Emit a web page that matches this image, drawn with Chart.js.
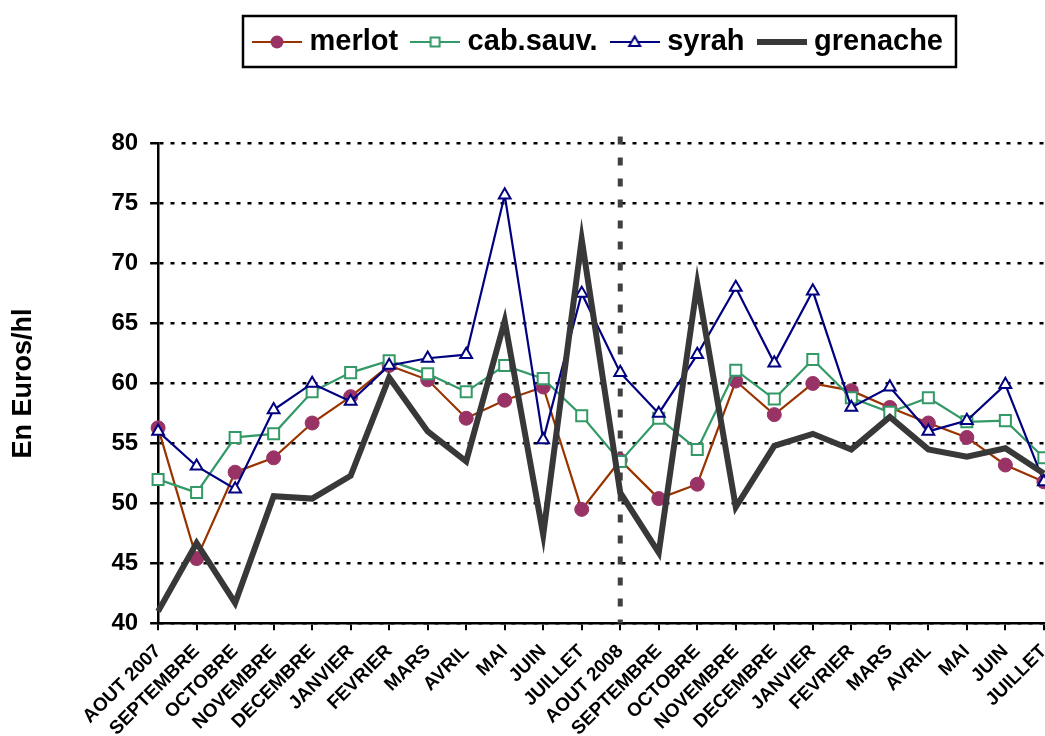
<!DOCTYPE html>
<html><head><meta charset="utf-8">
<script src="https://cdn.jsdelivr.net/npm/chart.js@4/dist/chart.umd.min.js"></script>
<style>
html,body{margin:0;padding:0;background:#fff;overflow:hidden;width:1045px;height:736px;}
#wrap{position:absolute;left:0;top:0;width:1070px;height:757px;}
</style></head><body>
<div id="wrap"><canvas id="c" width="1070" height="757"></canvas></div>
<script>
const categories = ['AOUT 2007','SEPTEMBRE','OCTOBRE','NOVEMBRE','DECEMBRE','JANVIER','FEVRIER','MARS','AVRIL','MAI','JUIN','JUILLET',
                    'AOUT 2008','SEPTEMBRE','OCTOBRE','NOVEMBRE','DECEMBRE','JANVIER','FEVRIER','MARS','AVRIL','MAI','JUIN','JUILLET'];
const merlot   = [56.3,45.4,52.6,53.8,56.7,58.9,61.5,60.3,57.1,58.6,59.7,49.5,53.6,50.4,51.6,60.2,57.4,60.0,59.4,58.0,56.7,55.5,53.2,51.8];
const cabSauv  = [52.0,50.9,55.5,55.8,59.3,60.9,61.9,60.8,59.3,61.5,60.4,57.3,53.5,57.1,54.5,61.1,58.7,62.0,58.8,57.6,58.8,56.8,56.9,53.8];
const syrah    = [56.0,53.1,51.2,57.8,60.0,58.5,61.5,62.1,62.4,75.7,55.3,67.5,60.9,57.5,62.4,68.0,61.7,67.7,58.0,59.7,56.0,56.9,59.9,51.8];
const grenache = [41.0,46.7,41.7,50.6,50.4,52.3,60.5,56.0,53.5,65.2,47.4,72.0,50.9,45.9,68.3,49.7,54.8,55.8,54.5,57.2,54.5,53.9,54.6,52.5];
const seriesNames = ['merlot','cab.sauv.','syrah','grenache'];
const yMin = 40, yMax = 80, yStep = 5;
const yTitle = 'En Euros/hl';
const dividerIndex = 12; // AOUT 2008

const FONT = "'Liberation Sans', Arial, sans-serif";
Chart.defaults.font.family = FONT;
Chart.defaults.color = '#000';

const COL = {
  merlotLine:'#993300', merlotPt:'#993366',
  cab:'#339966', syrah:'#000080', gren:'#383838'
};

function sample(kind){
  const c = document.createElement('canvas');
  c.width = 50; c.height = 16;
  const g = c.getContext('2d');
  const cy = 8;
  g.lineCap = 'butt';
  if (kind === 3) {
    g.strokeStyle = COL.gren; g.lineWidth = 6;
    g.beginPath(); g.moveTo(0,cy); g.lineTo(50,cy); g.stroke();
    return c;
  }
  const lc = kind===0?COL.merlotLine:kind===1?COL.cab:COL.syrah;
  g.strokeStyle = lc; g.lineWidth = 2;
  g.beginPath(); g.moveTo(0,cy); g.lineTo(50,cy); g.stroke();
  if (kind===0){ g.fillStyle=COL.merlotPt; g.beginPath(); g.arc(25,cy,6.5,0,Math.PI*2); g.fill(); }
  if (kind===1){ g.fillStyle='#fff'; g.fillRect(20.5,3.5,9,9); g.strokeStyle=COL.cab; g.lineWidth=2; g.strokeRect(20.5,3.5,9,9); }
  if (kind===2){ g.fillStyle='#fff'; g.strokeStyle=COL.syrah; g.lineWidth=2; g.beginPath(); g.moveTo(25,2.5); g.lineTo(30.5,12); g.lineTo(19.5,12); g.closePath(); g.fill(); g.stroke(); }
  return c;
}
const samples = [sample(0),sample(1),sample(2),sample(3)];

const spacer = {
  id:'spacer',
  beforeInit(chart){
    const box = {
      position:'top', weight:900, fullSize:false, options:{},
      top:0,left:0,right:0,bottom:0,width:0,height:0,
      isHorizontal(){return true;},
      update(maxW){ this.width = maxW; this.height = 77; },
      draw(){}
    };
    Chart.layouts.addBox(chart, box);
  }
};

const divider = {
  id:'divider',
  beforeDatasetsDraw(chart){
    const ctx = chart.ctx, x = chart.scales.x.getPixelForValue(dividerIndex);
    const {top,bottom} = chart.chartArea;
    ctx.save(); ctx.strokeStyle='#404040'; ctx.lineWidth=5; ctx.setLineDash([8,13]);
    ctx.beginPath(); ctx.moveTo(x, top-7); ctx.lineTo(x, bottom); ctx.stroke(); ctx.restore();
  }
};

const legendBorder = {
  id:'legendBorder',
  afterDraw(chart){
    const lg = chart.legend; if(!lg || !lg.legendHitBoxes || !lg.legendHitBoxes.length) return;
    const hb = lg.legendHitBoxes, f = hb[0], l = hb[hb.length-1];
    const left = f.left - 16, right = l.left + l.width + 13, cy = f.top + f.height/2;
    const ctx = chart.ctx;
    ctx.save(); ctx.strokeStyle='#000'; ctx.lineWidth=2.5;
    ctx.strokeRect(left, cy-26, right-left, 51); ctx.restore();
  }
};

new Chart(document.getElementById('c'), {
  type:'line',
  data:{
    labels: categories,
    datasets:[
      {label:seriesNames[0], data:merlot, borderColor:COL.merlotLine, borderWidth:2.2, pointStyle:'circle', pointRadius:7,
       pointBackgroundColor:COL.merlotPt, pointBorderColor:COL.merlotPt, pointBorderWidth:1, order:3, clip:false},
      {label:seriesNames[1], data:cabSauv, borderColor:COL.cab, borderWidth:2.2, pointStyle:'rect', pointRadius:7.8,
       pointBackgroundColor:'#fff', pointBorderColor:COL.cab, pointBorderWidth:2, order:2, clip:false},
      {label:seriesNames[2], data:syrah, borderColor:COL.syrah, borderWidth:2.2, pointStyle:'triangle', pointRadius:6.8,
       pointBackgroundColor:'#fff', pointBorderColor:COL.syrah, pointBorderWidth:2, order:1, clip:false},
      {label:seriesNames[3], data:grenache, borderColor:COL.gren, borderWidth:6, pointRadius:0, order:0, clip:false,
       borderJoinStyle:'miter'}
    ]
  },
  options:{
    responsive:false, animation:false, devicePixelRatio:1,
    layout:{padding:{left:7, top:8.5, right:0, bottom:6.9}},
    elements:{line:{tension:0}},
    plugins:{
      tooltip:{enabled:false},
      legend:{
        position:'top', fullSize:false,
        labels:{
          usePointStyle:true, pointStyleWidth:36, padding:19, color:'#000',
          font:{size:29, weight:'bold', family:FONT},
          sort:(a,b)=>a.datasetIndex-b.datasetIndex,
          generateLabels(chart){
            const items = Chart.defaults.plugins.legend.labels.generateLabels(chart);
            items.forEach(it=>{ it.pointStyle = samples[it.datasetIndex]; });
            return items;
          }
        }
      }
    },
    scales:{
      x:{
        type:'category', offset:false,
        grid:{display:true, drawOnChartArea:false, drawTicks:true, tickLength:7, color:'#000', lineWidth:2},
        border:{display:true, color:'#000', width:2.5},
        ticks:{autoSkip:false, maxRotation:45, minRotation:45, padding:10, color:'#000',
               font:{size:19, weight:'bold', family:FONT}}
      },
      y:{
        min:yMin, max:yMax,
        ticks:{stepSize:yStep, padding:12, color:'#000', font:{size:24, weight:'bold', family:FONT}},
        grid:{color:'#000', lineWidth:2.5, tickLength:8, tickBorderDash:[], tickWidth:2.5, tickColor:'#000'},
        border:{display:true, color:'#000', width:2.5, dash:[4,7]},
        title:{display:true, text:yTitle, color:'#000', font:{size:27, weight:'bold', family:FONT}, padding:{top:0,bottom:60}}
      }
    }
  },
  plugins:[spacer, divider, legendBorder]
});
</script>
</body></html>
